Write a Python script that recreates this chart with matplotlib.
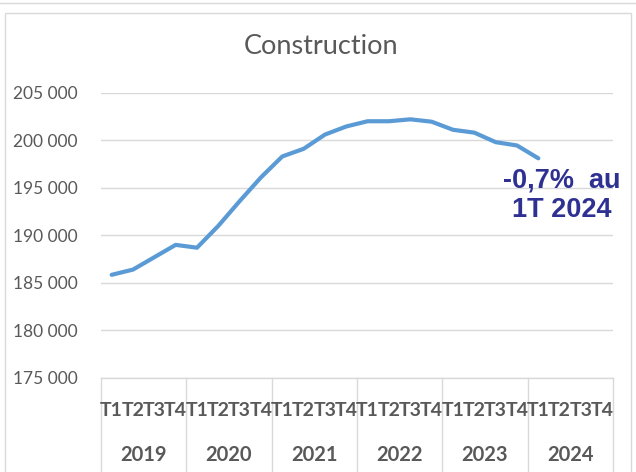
import matplotlib
matplotlib.use("Agg")
import matplotlib.pyplot as plt
from matplotlib.patches import Rectangle
from matplotlib.lines import Line2D
import matplotlib.transforms as mtransforms

# Data
years = ["2019", "2020", "2021", "2022", "2023", "2024"]
quarters = ["T1", "T2", "T3", "T4"]
values = [185850, 186400, 187700, 189000, 188700,
          191000, 193600, 196100, 198300,
          199100, 200600, 201450, 202000,
          202000, 202200, 201950, 201100,
          200800, 199800, 199450, 198100]
yticks = [175000, 180000, 185000, 190000, 195000, 200000, 205000]
annotation = "-0,7%  au\n1T 2024"

W, H = 636, 472
fig = plt.figure(figsize=(W / 100, H / 100), dpi=100)

# chart frame (Excel-like)
fig.add_artist(Line2D([0, 1], [1 - 3 / H, 1 - 3 / H], color="#D9D9D9", lw=1))
fig.add_artist(Rectangle((5 / W, -0.01), (631 - 5) / W, (H - 13) / H + 0.01,
                         fill=False, edgecolor="#D9D9D9", lw=1))

left, right, top, bottom = 101, 613, 92.7, 378
ax = fig.add_axes([left / W, 1 - bottom / H, (right - left) / W, (bottom - top) / H])

n_cat = len(years) * len(quarters)
ax.plot(range(len(values)), values, color="#5B9BD5", lw=3,
        solid_capstyle="round", solid_joinstyle="round", zorder=3)

ax.set_xlim(-0.5, n_cat - 0.5)
ax.set_ylim(yticks[0], yticks[-1])
ax.set_yticks(yticks)
ax.set_yticklabels([f"{v:,}".replace(",", " ") for v in yticks],
                   fontfamily="Lato", fontsize=12.5, color="#595959")
ax.tick_params(axis="y", length=0, pad=17)
ax.set_xticks([])
ax.grid(axis="y", color="#D9D9D9", lw=1)
ax.set_axisbelow(True)
for s in ["top", "right", "left"]:
    ax.spines[s].set_visible(False)
ax.spines["bottom"].set_color("#D9D9D9")
ax.spines["bottom"].set_linewidth(1)

# multi-level category axis
trans = mtransforms.blended_transform_factory(ax.transData, ax.transAxes)
ax_h = bottom - top
for i in range(n_cat):
    ax.text(i, -(410 - bottom) / ax_h, quarters[i % 4], transform=trans,
            ha="center", va="center", fontfamily="Lato", fontweight="bold",
            fontsize=14, color="#595959")
for k, y in enumerate(years):
    ax.text(k * 4 + 1.5, -(455 - bottom) / ax_h, y, transform=trans,
            ha="center", va="center", fontfamily="Lato", fontweight="bold",
            fontsize=14.5, color="#595959")
for k in range(len(years) + 1):
    ax.add_line(Line2D([k * 4 - 0.5] * 2, [0, -(H - bottom + 5) / ax_h],
                       transform=trans, color="#D9D9D9", lw=1, clip_on=False))

ax.text(21.1, 194200, annotation, ha="center", va="center",
        fontfamily="Liberation Sans", fontweight="bold", fontsize=19.5,
        color="#2E3192", linespacing=1.2)

fig.text(321.5 / W, 1 - 47 / H, "Construction", ha="center", va="center",
         fontfamily="Lato", fontsize=19.5, color="#595959")

fig.savefig("out.png", dpi=100)
